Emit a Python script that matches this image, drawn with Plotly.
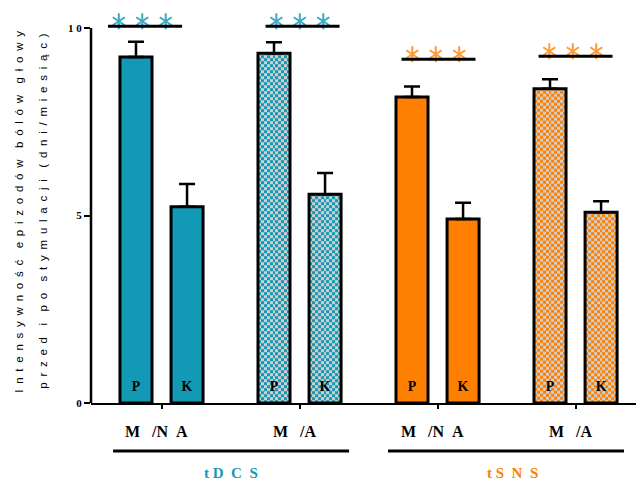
import numpy as np
import plotly.graph_objects as go

# Group labels under the x axis and the stimulation methods beneath them
groups = ["M&nbsp;&nbsp;&nbsp;/N&nbsp;&nbsp;A", "M&nbsp;&nbsp;&nbsp;/A",
          "M&nbsp;&nbsp;&nbsp;/N&nbsp;&nbsp;A", "M&nbsp;&nbsp;&nbsp;/A"]
methods = ["t D&nbsp;&nbsp;C&nbsp;&nbsp;S", "t S&nbsp;&nbsp;N&nbsp;&nbsp;S"]
bar_tags = ["P", "K"]

# Mean headache days per month before (P) and after (K) stimulation, with SEM
pre_vals = [9.23, 9.33, 8.16, 8.38]
pre_err = [0.40, 0.29, 0.28, 0.25]
post_vals = [5.23, 5.57, 4.91, 5.09]
post_err = [0.61, 0.56, 0.43, 0.29]

# Significance brackets (***) above each pair
sig_levels = [10.05, 10.05, 9.17, 9.25]
sig_spans = [(-0.388, 0.149), (-0.246, 0.290), (-0.261, 0.275), (-0.268, 0.268)]

TEAL = "#1299b5"
ORANGE = "#ff8000"
GRAY = "#cfcfcf"
STAR_TEAL = "#3aaac6"
STAR_ORANGE = "#ff9a33"
fills = [TEAL, TEAL, ORANGE, ORANGE]
checkered = [False, True, False, True]
star_colors = [STAR_TEAL, STAR_TEAL, STAR_ORANGE, STAR_ORANGE]

OFFSET = 0.185
WIDTH = 0.232
PX_X = 1 / 138.0   # x units per pixel
PX_Y = 1 / 37.5    # y units per pixel
PLOT_H = 393.0     # plot area height in pixels
CELL = 3           # checker cell size in pixels

xs = np.arange(len(groups), dtype=float)
pre_x = xs - OFFSET
post_x = xs + OFFSET

fig = go.Figure()

# Checkerboard texture for the "M/A" bars
for gi, chk in enumerate(checkered):
    if not chk:
        continue
    for cx, val in ((pre_x[gi], pre_vals[gi]), (post_x[gi], post_vals[gi])):
        left, right = cx - WIDTH / 2, cx + WIDTH / 2
        ncols = int(round(WIDTH / PX_X / CELL))
        xe = np.linspace(left, right, ncols + 1)
        ye = np.append(np.arange(0, val, CELL * PX_Y), val)
        nrows = len(ye) - 1
        z = (np.add.outer(np.arange(nrows), np.arange(ncols)) % 2).astype(float)
        fig.add_trace(go.Heatmap(
            x=xe, y=ye, z=z, zmin=0, zmax=1, zsmooth=False,
            colorscale=[[0, fills[gi]], [1, GRAY]],
            showscale=False, hoverinfo="skip",
        ))

bar_fill = [("rgba(0,0,0,0)" if c else f) for f, c in zip(fills, checkered)]

for bx, vals, errs in ((pre_x, pre_vals, pre_err), (post_x, post_vals, post_err)):
    fig.add_trace(go.Bar(
        x=bx, y=vals, width=WIDTH,
        marker=dict(color=bar_fill, line=dict(color="black", width=3)),
        error_y=dict(type="data", array=errs, arrayminus=[0] * len(errs),
                     symmetric=False, color="black", thickness=2.5, width=8),
        showlegend=False, hoverinfo="skip",
    ))

# P / K tags inside the bars
fig.add_trace(go.Scatter(
    x=list(pre_x) + list(post_x),
    y=[0.42] * (2 * len(groups)),
    mode="text",
    text=[f"<b>{bar_tags[0]}</b>"] * len(groups) + [f"<b>{bar_tags[1]}</b>"] * len(groups),
    textfont=dict(family="Liberation Serif", size=14, color="black"),
    showlegend=False, hoverinfo="skip",
))

shapes = []
annotations = []

# significance brackets and stars
for gi, (lvl, (a, b)) in enumerate(zip(sig_levels, sig_spans)):
    shapes.append(dict(type="line", xref="x", yref="y",
                       x0=xs[gi] + a, x1=xs[gi] + b, y0=lvl, y1=lvl,
                       line=dict(color="black", width=3)))
    mid = xs[gi] + (a + b) / 2 - 0.02
    sx = [mid - 0.17, mid, mid + 0.17]
    for sym in ("y-up-open", "y-down-open"):
        fig.add_trace(go.Scatter(
            x=sx, y=[lvl + 0.13] * 3, mode="markers",
            marker=dict(symbol=sym, size=10, color=star_colors[gi],
                        line=dict(color=star_colors[gi], width=2)),
            showlegend=False, hoverinfo="skip", cliponaxis=False,
        ))

# y axis line spanning 0..10 only
shapes.append(dict(type="line", xref="paper", yref="y", x0=0, x1=0, y0=0, y1=10,
                   line=dict(color="black", width=2.5)))

# group labels
for gi, g in enumerate(groups):
    annotations.append(dict(x=xs[gi], y=0, xref="x", yref="y", text=f"<b>{g}</b>",
                            showarrow=False, yanchor="middle", xanchor="center",
                            yshift=-28, xshift=-5,
                            font=dict(family="Liberation Serif", size=16, color="black")))

# method underlines and labels (below the plot area, in paper units)
method_spans = [(-0.351, 1.359), (1.641, 3.351)]
method_colors = [TEAL, ORANGE]
method_label_x = [0.504, 2.54]
for mi, (a, b) in enumerate(method_spans):
    shapes.append(dict(type="line", xref="x", yref="paper", x0=a, x1=b,
                       y0=-48 / PLOT_H, y1=-48 / PLOT_H,
                       line=dict(color="black", width=3)))
    annotations.append(dict(x=method_label_x[mi], y=-70 / PLOT_H, xref="x", yref="paper",
                            text=f"<b>{methods[mi]}</b>", showarrow=False,
                            yanchor="middle", xanchor="center",
                            font=dict(family="Liberation Serif", size=15,
                                      color=method_colors[mi])))

# y axis title, two letter-spaced lines
EN = "\u2002"
def spaced(text):
    words = text.split(" ")
    return (EN + EN).join(EN.join(w) for w in words)

title1 = spaced("Intensywność epizodów bólów głowy")
title2 = spaced("przed i po stymulacji (dni/miesiąc)")
for tx, t in ((19, title1), (43, title2)):
    annotations.append(dict(x=(tx - 91) / 545.0, y=5.1, xref="paper", yref="y",
                            text=t, textangle=-90, showarrow=False,
                            xanchor="center", yanchor="middle",
                            font=dict(family="Liberation Sans", size=11.5, color="black")))

fig.update_layout(
    width=636, height=482,
    margin=dict(l=91, r=0, t=10, b=79),
    paper_bgcolor="white", plot_bgcolor="white",
    barmode="overlay", showlegend=False,
    shapes=shapes, annotations=annotations,
    xaxis=dict(range=[-0.511, 3.438], tickvals=list(xs), showticklabels=False,
               ticks="outside", ticklen=4, tickwidth=2, tickcolor="black",
               showline=True, linecolor="black", linewidth=2,
               showgrid=False, zeroline=False, fixedrange=True),
    yaxis=dict(range=[0, 10.48], tickvals=[0, 5, 10],
               ticktext=["<b>0</b>", "<b>5</b>", "<b>1 0</b>"],
               ticks="outside", ticklen=6, tickwidth=2, tickcolor="black",
               tickfont=dict(family="Liberation Serif", size=11, color="black"),
               showline=False, showgrid=False, zeroline=False, fixedrange=True),
)

fig.write_html("out.html")
